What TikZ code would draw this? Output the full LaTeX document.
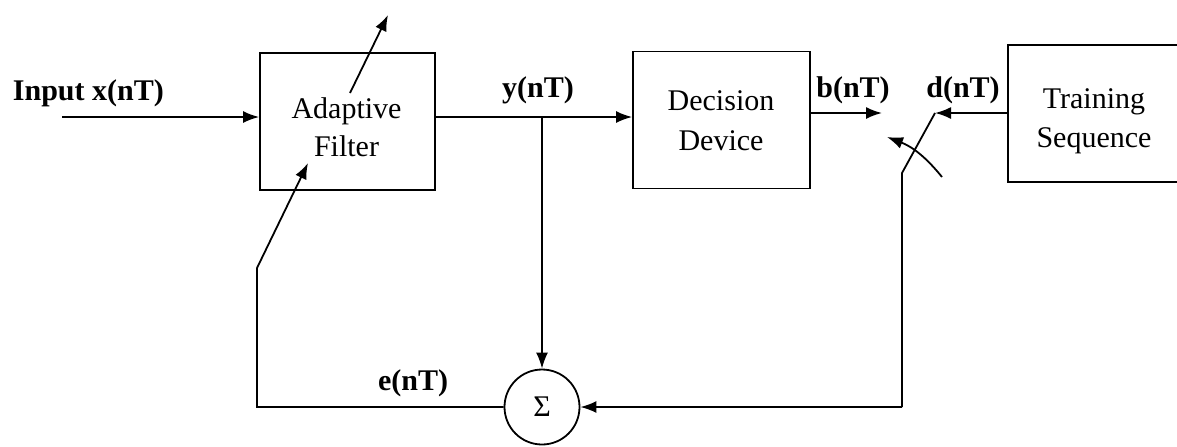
\documentclass[tikz,border=0pt]{standalone}
\usepackage{fontspec}
\setmainfont{Liberation Serif}
\usetikzlibrary{calc,arrows.meta}
\newcommand{\figwidth}{1177}
\newcommand{\figheight}{446}
\newcommand{\sigy}{117}
\newcommand{\outy}{113}
\newcommand{\labely}{97}
\newcommand{\fbx}{257}
\newcommand{\switchx}{902}
\newcommand{\sumy}{407}

\begin{document}
\begin{tikzpicture}[x=0.5pt,y=-0.5pt,>={Latex[length=8pt,width=6pt]},line width=0.9pt]
\tikzstyle{block}=[draw,minimum width=87.5pt,minimum height=68.5pt,inner sep=0pt]
\tikzstyle{blocktext}=[anchor=north,align=center,inner sep=0pt,font=\fontsize{15}{19.5}\selectfont]
\tikzstyle{sig}=[anchor=base,inner sep=0pt,font=\fontsize{15}{18}\selectfont\bfseries]
\useasboundingbox (0,0) rectangle (\figwidth,\figheight);
\clip (0,0) rectangle (\figwidth,\figheight);

%% blocks
\node (filt) [block] at (347.5,121.5) {};
\node (filttext) [blocktext, font=\fontsize{15}{19}\selectfont] at (346.5,96.5) {Adaptive\\Filter};
\node (dec) [block, minimum width=88.5pt] at (721.5,120) {};
\node (dectext) [blocktext, font=\fontsize{15}{20}\selectfont] at (721,89.5) {Decision\\Device};
\node (train) [block, minimum width=85pt] at (1093,113.5) {};
\node (traintext) [blocktext] at (1094,87.5) {Training\\Sequence};
\node (sum) [draw,circle,minimum size=37.5pt,inner sep=0pt,font=\fontsize{15}{18}\selectfont] at (542,\sumy) {Σ};

%% input and filter output
\coordinate (in) at (62,\sigy);
\coordinate (ytap) at (542,\sigy);
\draw[->] (in) -- (in -| filt.west);
\draw[->] (ytap -| filt.east) -- (ytap -| dec.west);
\draw[->] (ytap) -- (sum.north);

%% decision output and training sequence
\coordinate (bend) at (882,\outy);
\coordinate (dend) at (935,\outy);
\draw[->] (dec.east |- bend) -- (bend);
\draw[->] (train.west |- dend) -- (dend);

%% switch
\coordinate (swknee) at (\switchx,173);
\coordinate (swbot) at (\switchx,\sumy);
\draw (dend) -- (swknee) -- (swbot);
\draw[->] (swbot) -- (sum.east);
\coordinate (arcstart) at (942,177);
\coordinate (arcend) at (887,137);
\draw[->] (arcstart) to[bend right=15] (arcend);

%% error feedback
\coordinate (fbcorner) at (\fbx,\sumy);
\coordinate (fbknee) at (\fbx,268);
\coordinate (fbtip) at (308,163);
\draw[->] (sum.west) -- (fbcorner) -- (fbknee) -- (fbtip);
\coordinate (adjbase) at (350,93);
\coordinate (adjtip) at (388,15);
\draw[->] (adjbase) -- (adjtip);

%% labels
\node (inlabel) [sig,anchor=base west] at (12,100) {Input x(nT)};
\node (ylabel) [sig] at (538,\labely) {y(nT)};
\node (blabel) [sig] at (853,\labely) {b(nT)};
\node (dlabel) [sig] at (963,\labely) {d(nT)};
\node (elabel) [sig] at (413,390) {e(nT)};

\end{tikzpicture}
\end{document}
